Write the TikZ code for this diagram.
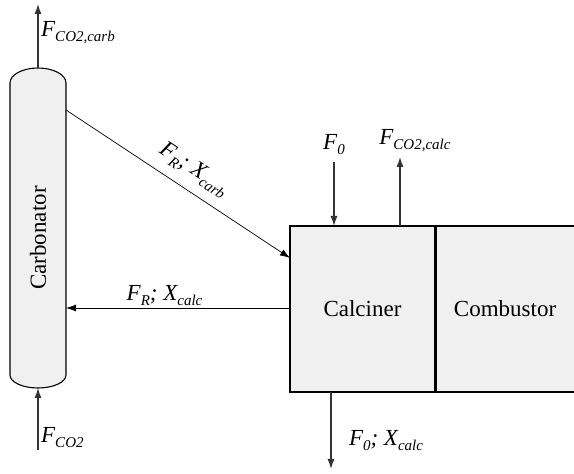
\documentclass[tikz,border=0pt]{standalone}
\usepackage{fontspec}
\setmainfont{Liberation Serif}
\newfontfamily\tnr{Liberation Serif}
\usetikzlibrary{arrows.meta}
\newcommand\sbx[1]{\raisebox{-0.22em}{\fontsize{15}{15}\selectfont\tnr\itshape #1}}
\definecolor{boxfill}{HTML}{F0F0F0}
\begin{document}
\begin{tikzpicture}[x=1pt,y=1pt,
  lbl/.style={font=\fontsize{23}{26}\selectfont\tnr\itshape, inner sep=1pt},
  unit/.style={draw=black, line width=1.1pt, fill=boxfill, minimum width=145pt, minimum height=166pt, inner sep=0pt, font=\fontsize{23}{26}\selectfont\tnr},
  thickarrow/.style={draw=black!80, line width=1.2pt, -{Latex[length=10pt,width=7pt]}},
  thinarrow/.style={draw=black, line width=0.7pt, -{Latex[length=10pt,width=7pt]}}]
\useasboundingbox (0,0) rectangle (574,474);
% carbonator vessel
\draw[line width=1.1pt, fill=boxfill] (10,99) -- (10,391)
  arc[start angle=180,end angle=0,x radius=28,y radius=15] -- (66,99)
  arc[start angle=0,end angle=-180,x radius=28,y radius=13] -- cycle;
\node[rotate=90, font=\fontsize{23}{26}\selectfont\tnr] (carb) at (38,236) {Carbonator};
\coordinate (carbTop) at (38,406);
\coordinate (carbBot) at (38,86);
\coordinate (carbR1) at (66,364);
\coordinate (carbR2) at (66,166);
\coordinate (outTop) at (38,470);
\coordinate (inBot) at (38,24);
% calciner and combustor
\node[unit] (calc) at (362.5,165) {Calciner};
\node[unit, minimum width=138pt, anchor=west] (comb) at (calc.east) {Combustor};
\coordinate (calcDiag) at (290,216);
\coordinate (calcLeft) at (290,166);
\coordinate (f0top) at (334,312);
\coordinate (f0in) at (334,248);
\coordinate (co2out) at (400,317);
\coordinate (co2base) at (400,248);
\coordinate (botbase) at (331,82);
\coordinate (botout) at (331,5);
% connectors
\draw[thickarrow] (carbTop) -- (outTop);
\draw[thickarrow] (inBot) -- (carbBot);
\draw[thinarrow] (carbR1) -- node[pos=0.52, above=9pt, sloped, lbl] (lab1) {F\sbx{R}; X\sbx{carb}} (calcDiag);
\draw[thinarrow] (calcLeft) -- node[pos=0.56, above=1pt, lbl] (lab2) {F\sbx{R}; X\sbx{calc}} (carbR2);
\draw[thickarrow] (f0top) -- (f0in);
\draw[thickarrow] (co2base) -- (co2out);
\draw[thickarrow] (botbase) -- (botout);
% labels
\node[lbl, anchor=west] (l1) at (40,441) {F\sbx{CO2,carb}};
\node[lbl, anchor=west] (l2) at (40,36) {F\sbx{CO2}};
\node[lbl] (l3) at (334,329) {F\sbx{0}};
\node[lbl] (l4) at (415,333) {F\sbx{CO2,calc}};
\node[lbl] (l5) at (386,33) {F\sbx{0}; X\sbx{calc}};
\end{tikzpicture}
\end{document}
